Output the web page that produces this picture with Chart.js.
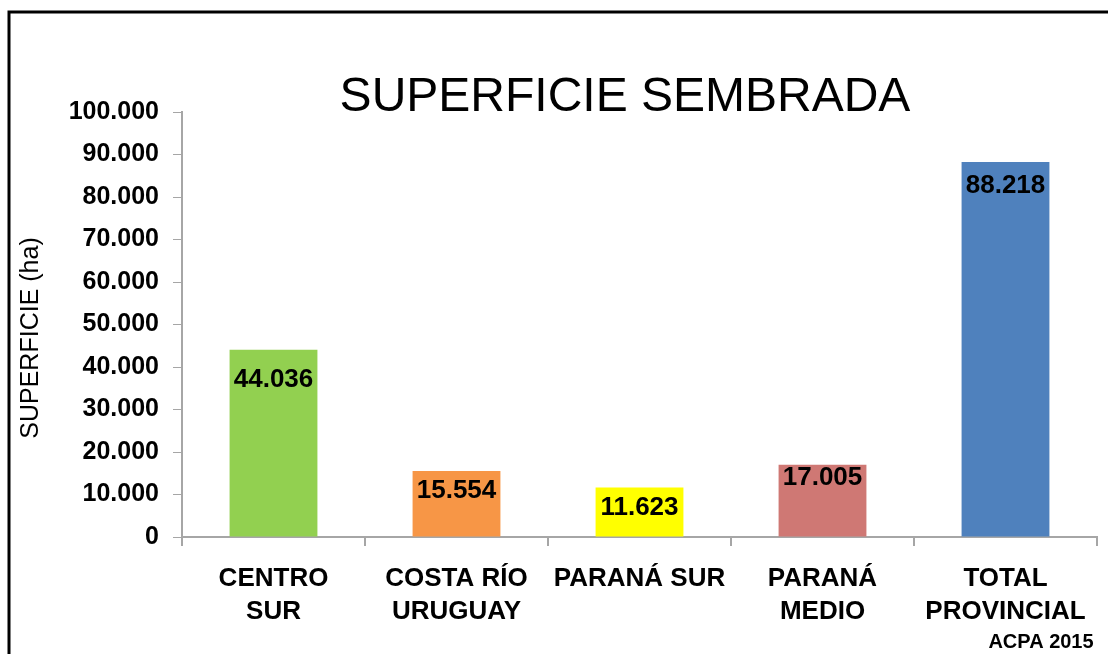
<!DOCTYPE html>
<html>
<head>
<meta charset="utf-8">
<script src="https://cdn.jsdelivr.net/npm/chart.js@4/dist/chart.umd.min.js"></script>
<style>
  body { margin: 0; background: #fff; }
  #wrap { width: 1108px; height: 654px; }
</style>
</head>
<body>
<div id="wrap"><canvas id="barChart" width="1108" height="654"></canvas></div>
<script>
// Chart data
const categories = [['CENTRO', 'SUR'], ['COSTA RÍO', 'URUGUAY'], ['PARANÁ SUR'], ['PARANÁ', 'MEDIO'], ['TOTAL', 'PROVINCIAL']];
const values = [44036, 15554, 11623, 17005, 88218];
const barColors = ['#92D050', '#F79646', '#FFFF00', '#CF7874', '#4F81BD'];
const chartTitle = 'SUPERFICIE SEMBRADA';
const yTitle = 'SUPERFICIE (ha)';
const sourceNote = 'ACPA 2015';

// how far below the bar top each value label sits (as in the original)
const labelOffsets = [30, 20, 20, 13, 24];

const FONT = 'Arial, "Liberation Sans", sans-serif';

function fmt(v) {
    return String(v).replace(/\B(?=(\d{3})+(?!\d))/g, '.');
}

// frame, titles, value labels, source note
const decorations = {
    id: 'decorations',
    afterDraw(chart) {
        const c = chart.ctx;
        c.save();
        // frame
        c.strokeStyle = '#000';
        c.lineWidth = 3;
        c.beginPath();
        c.moveTo(9, 660);
        c.lineTo(9, 12);
        c.lineTo(1115, 12);
        c.stroke();

        c.fillStyle = '#000';
        c.textAlign = 'center';
        c.textBaseline = 'middle';

        // title
        c.font = '48px ' + FONT;
        c.fillText(chartTitle, 625, 98);

        // y axis title
        c.save();
        c.translate(31, 338);
        c.rotate(-Math.PI / 2);
        c.font = '25px ' + FONT;
        c.fillText(yTitle, 0, 0);
        c.restore();

        // value labels
        c.font = 'bold 26px ' + FONT;
        const meta = chart.getDatasetMeta(0);
        meta.data.forEach((bar, i) => {
            c.fillText(fmt(values[i]), bar.x, bar.y + labelOffsets[i]);
        });

        // source
        c.font = 'bold 20px ' + FONT;
        c.fillText(sourceNote, 1041, 642);
        c.restore();
    }
};

const ctx = document.getElementById('barChart').getContext('2d');
const barChart = new Chart(ctx, {
    type: 'bar',
    data: {
        labels: categories,
        datasets: [{
            data: values,
            backgroundColor: barColors,
            borderWidth: 0,
            barPercentage: 0.48,
            categoryPercentage: 1
        }]
    },
    options: {
        responsive: false,
        animation: false,
        layout: { padding: { top: 112, left: 0, right: 11, bottom: 0 } },
        plugins: {
            legend: { display: false },
            tooltip: { enabled: false }
        },
        scales: {
            x: {
                afterFit(scale) { scale.height = 117; },
                grid: {
                    drawOnChartArea: false,
                    tickLength: 9,
                    color: '#a6a6a6',
                    lineWidth: 2
                },
                border: { color: '#a6a6a6', width: 2 },
                ticks: {
                    color: '#000',
                    padding: 16,
                    maxRotation: 0,
                    autoSkip: false,
                    font: { family: FONT, size: 26, weight: 'bold', lineHeight: 1.27 }
                }
            },
            y: {
                min: 0,
                max: 100000,
                afterFit(scale) { scale.width = 182; },
                grid: {
                    drawOnChartArea: false,
                    tickLength: 9,
                    color: '#a6a6a6',
                    lineWidth: 1
                },
                border: { color: '#a6a6a6', width: 2 },
                ticks: {
                    stepSize: 10000,
                    color: '#000',
                    padding: 14,
                    font: { family: FONT, size: 25, weight: 'bold' },
                    callback: (v) => fmt(v)
                }
            }
        }
    },
    plugins: [decorations]
});
</script>
</body>
</html>
